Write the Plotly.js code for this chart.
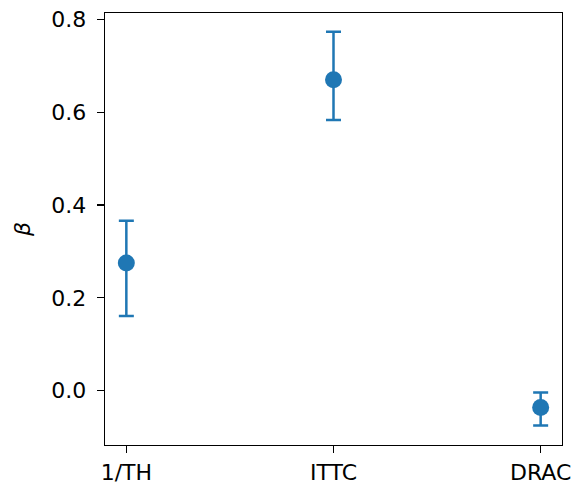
<!DOCTYPE html>
<html><head><meta charset="utf-8">
<script src="https://cdn.plot.ly/plotly-3.0.1.min.js"></script>
<style>html,body{margin:0;padding:0;background:#fff}</style>
</head><body><div id="chart" style="width:575px;height:487px"></div>
<script>
const categories = ["1/TH", "ITTC", "DRAC"];
const beta = [0.275, 0.670, -0.036];
const errUpper = [0.091, 0.103, 0.032];
const errLower = [0.114, 0.087, 0.039];
const xIdx = categories.map((c, i) => i);

const trace = {
  x: xIdx, y: beta, type: "scatter", mode: "markers",
  marker: {color: "#1f77b4", size: 17},
  error_y: {type: "data", symmetric: false, array: errUpper, arrayminus: errLower,
            color: "#1f77b4", thickness: 2.5, width: 7.5},
  hoverinfo: "skip"
};
const layout = {
  width: 575, height: 487,
  margin: {l: 105, r: 13, t: 13, b: 42},
  paper_bgcolor: "#fff", plot_bgcolor: "#fff",
  font: {family: "DejaVu Sans", size: 22, color: "#000"},
  showlegend: false,
  xaxis: {range: [-0.103, 2.103], tickvals: xIdx, ticktext: categories,
          showgrid: false, zeroline: false, showline: true, mirror: true,
          linecolor: "#000", linewidth: 1.3, ticks: "outside", ticklen: 7,
          tickwidth: 1.3, tickcolor: "#000", tickfont: {size: 22}, ticklabelstandoff: 0},
  yaxis: {range: [-0.117, 0.8136], tickvals: [0, 0.2, 0.4, 0.6, 0.8],
          ticktext: ["0.0", "0.2", "0.4", "0.6", "0.8"],
          showgrid: false, zeroline: false, showline: true, mirror: true,
          linecolor: "#000", linewidth: 1.3, ticks: "outside", ticklen: 7,
          tickwidth: 1.3, tickcolor: "#000", tickfont: {size: 22}, ticklabelstandoff: 6,
          title: {text: "<i>β</i>", font: {size: 22}, standoff: 14}}
};
Plotly.newPlot("chart", [trace], layout, {displayModeBar: false, staticPlot: true});
</script></body></html>
